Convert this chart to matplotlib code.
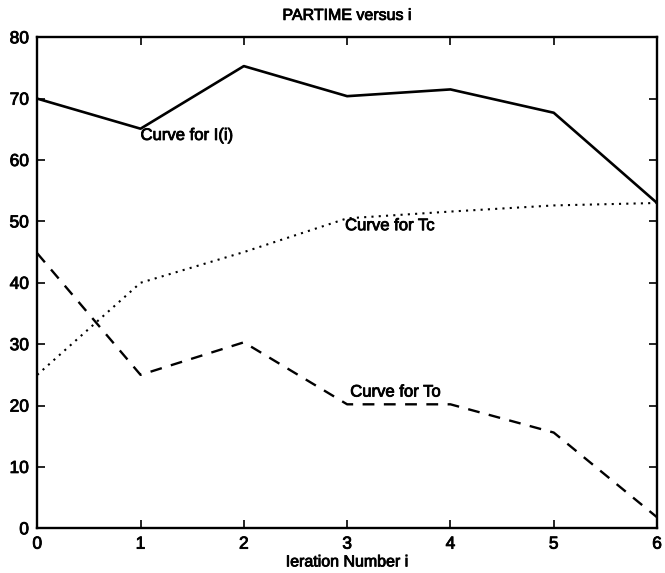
import matplotlib
matplotlib.use("Agg")
import matplotlib.pyplot as plt
import matplotlib.patheffects as pe

# Iteration numbers and measured PARTIME components
iterations = [0, 1, 2, 3, 4, 5, 6]
curve_I = [70.0, 65.1, 75.3, 70.4, 71.5, 67.7, 53.0]
curve_Tc = [25.0, 40.0, 45.0, 50.5, 51.6, 52.6, 53.0]
curve_To = [44.8, 25.0, 30.3, 20.2, 20.2, 15.6, 1.8]

x_ticks = [0, 1, 2, 3, 4, 5, 6]
y_ticks = [0, 10, 20, 30, 40, 50, 60, 70, 80]

plt.rcParams['font.family'] = ['Liberation Sans', 'DejaVu Sans']

# slightly heavier strokes for all text
heavy = [pe.withStroke(linewidth=0.6, foreground='black')]

fig = plt.figure(figsize=(6.65, 5.73), dpi=100)
ax = fig.add_axes([0.056, 0.078, 0.932, 0.857])

ax.plot(iterations, curve_I, color='black', linewidth=1.9, linestyle='-')
ax.plot(iterations, curve_Tc, color='black', linewidth=1.5, linestyle=(0, (1, 2.5)))
ax.plot(iterations, curve_To, color='black', linewidth=1.7, linestyle=(0, (5, 4)))

ax.text(1.0, 64.0, 'Curve for I(i)', fontsize=12, va='center', ha='left', path_effects=heavy)
ax.text(2.98, 49.3, 'Curve for Tc', fontsize=12, va='center', ha='left', path_effects=heavy)
ax.text(3.03, 22.2, 'Curve for To', fontsize=12, va='center', ha='left', path_effects=heavy)

ax.set_xlim(0, 6)
ax.set_ylim(0, 80)
ax.set_xticks(x_ticks)
ax.set_yticks(y_ticks)
ax.tick_params(direction='in', top=True, right=True, length=6, width=1.2,
               labelsize=12.5, pad=6)
for lbl in ax.get_xticklabels() + ax.get_yticklabels():
    lbl.set_path_effects(heavy)
for spine in ax.spines.values():
    spine.set_linewidth(1.7)

ax.set_title('PARTIME versus i', fontsize=11.5, pad=12.5, path_effects=heavy)
ax.set_xlabel('Ieration Number i', fontsize=11.5, labelpad=2, path_effects=heavy)

fig.savefig('out.png', dpi=100)
